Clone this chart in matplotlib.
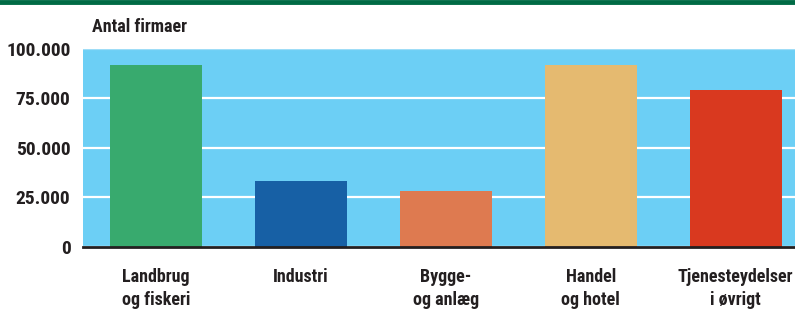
import matplotlib
matplotlib.use("Agg")
import matplotlib.pyplot as plt
from matplotlib.ticker import FuncFormatter
from matplotlib import font_manager

categories = ["Landbrug\nog fiskeri", "Industri", "Bygge-\nog anlæg", "Handel\nog hotel", "Tjenesteydelser\ni øvrigt"]
values = [91900, 33300, 28300, 91900, 79300]
colors = ["#38AA6E", "#1760A5", "#DE7A50", "#E5BA70", "#D9391F"]
yticks = [0, 25000, 50000, 75000, 100000]

names = {f.name for f in font_manager.fontManager.ttflist}
stretch = "normal"
if "Roboto Condensed" in names:
    fam = ["Roboto Condensed", "DejaVu Sans"]
elif "DejaVu Sans Condensed" in names:
    fam = ["DejaVu Sans Condensed", "DejaVu Sans"]
else:
    fam = ["DejaVu Sans"]
    stretch = "condensed"
plt.rcParams['font.family'] = fam
plt.rcParams['font.stretch'] = stretch

fig = plt.figure(figsize=(7.95, 3.09), dpi=100)
W, H = 795, 309
ax = fig.add_axes([83 / W, 1 - 247 / H, (795 - 83) / W, (247 - 48.5) / H])
ax.set_facecolor("#6CCFF5")
x = list(range(len(categories)))
ax.bar(x, values, width=0.634, color=colors, zorder=3)
ax.set_xlim(-0.503, 4.41)
ax.set_ylim(0, 100000)
ax.set_yticks(yticks)
ax.yaxis.set_major_formatter(FuncFormatter(lambda v, p: f"{int(v):,}".replace(",", ".")))
ax.grid(axis="y", color="white", linewidth=1.6, zorder=1)
ax.axhline(100000, color="#9FDDF7", linewidth=3, zorder=2)
for s in ["top", "right", "left"]:
    ax.spines[s].set_visible(False)
ax.spines["bottom"].set_color("#231F20")
ax.spines["bottom"].set_linewidth(2)
ax.spines["bottom"].set_zorder(4)
ax.set_xticks(x)
ax.set_xticklabels(categories, fontsize=13, fontweight="bold", color="#231F20", linespacing=1.4)
ax.tick_params(axis="x", length=0, pad=15)
ax.tick_params(axis="y", length=0, pad=9, labelsize=14, labelcolor="#231F20")
for lbl in ax.get_yticklabels():
    lbl.set_fontweight("bold")
fig.text(92 / W, 1 - 27 / H, "Antal firmaer", fontsize=13, fontweight="bold", color="#231F20", va="center", ha="left")
# top green rule
fig.add_artist(plt.Line2D([0, 1], [1 - 2 / H, 1 - 2 / H], color="#006B45", linewidth=3.5, transform=fig.transFigure))
fig.savefig("out.png", dpi=100)
